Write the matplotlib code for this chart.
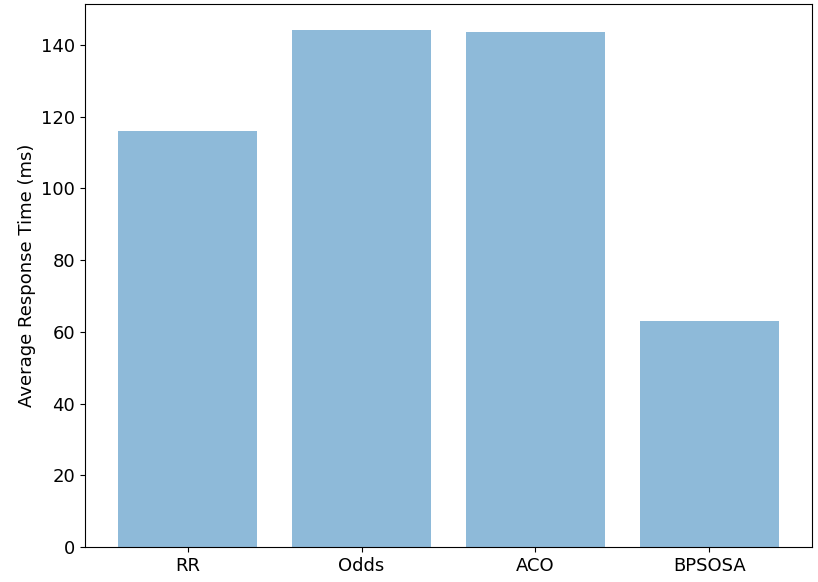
import matplotlib
matplotlib.use("Agg")
from matplotlib import pyplot as plt

algorithms = ["RR", "Odds", "ACO", "BPSOSA"]
response_ms = [116.0, 144.2, 143.6, 63.0]

plt.rcParams['font.size'] = 13
fig = plt.figure(figsize=(8.18, 5.82), dpi=100)
ax = fig.add_axes([85 / 818, 35 / 582, 727 / 818, 543 / 582])
ax.bar(algorithms, response_ms, color='#1f77b4', alpha=0.5, width=0.8)
ax.set_ylabel("Average Response Time (ms)")
fig.savefig("out.png", dpi=100)
